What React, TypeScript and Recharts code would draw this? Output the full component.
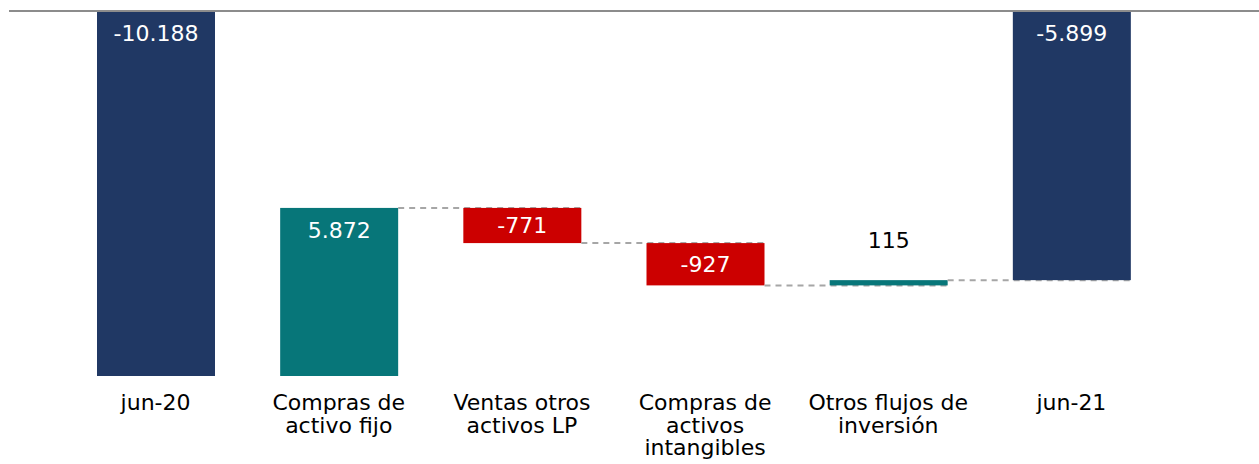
import { BarChart, Bar, XAxis, YAxis, ReferenceLine, LabelList } from 'recharts';

const categories = [
  'jun-20',
  'Compras de\nactivo fijo',
  'Ventas otros\nactivos LP',
  'Compras de\nactivos\nintangibles',
  'Otros flujos de\ninversión',
  'jun-21',
];
const changes = [-10188, 5872, -771, -927, 115, -5899];
const isTotal = [true, false, false, false, false, true];

const COLORS = { total: '#203864', up: '#077679', down: '#CC0000' };
const FONT = '"DejaVu Sans", Verdana, sans-serif';

const CHART_W = 1259;
const CHART_H = 464;
const MARGIN = { top: 11, right: 0, left: 9, bottom: 0 };
const PAD = { left: 55, right: 96 };
const BAND = (CHART_W - MARGIN.left - MARGIN.right - PAD.left - PAD.right) / categories.length;

// running totals -> [low, high] ranges for the floating bars
let running = 0;
const rows = categories.map((name, i) => {
  const start = isTotal[i] ? 0 : running;
  const end = isTotal[i] ? changes[i] : running + changes[i];
  running = end;
  return {
    name,
    value: changes[i],
    range: [Math.min(start, end), Math.max(start, end)],
    end,
    total: isTotal[i],
  };
});

const labelPlacement = ['insideTop', 'insideTop', 'center', 'center', 'above', 'insideTop'];

const fmt = (v: number) => {
  const s = Math.abs(v).toString().replace(/\B(?=(\d{3})+(?!\d))/g, '.');
  return (v < 0 ? '-' : '') + s;
};

const barColor = (row: any) => (row.total ? COLORS.total : row.value >= 0 ? COLORS.up : COLORS.down);

const WaterfallBar = (props: any) => {
  const { x, y, width, height, index, payload } = props;
  const top = Math.min(y, y + height);
  const h = Math.abs(height);
  const endAtTop = payload.end === payload.range[1];
  const level = endAtTop ? top : top + h;
  const last = index === rows.length - 1;
  return (
    <g>
      <rect x={x} y={top} width={width} height={h} fill={barColor(payload)} />
      {!last && (
        <line
          x1={x + width}
          x2={x + width + BAND}
          y1={level}
          y2={level}
          stroke="#A6A6A6"
          strokeWidth={2}
          strokeDasharray="6 5"
        />
      )}
    </g>
  );
};

const renderLabel = (props: any) => {
  const { x, y, width, height, value, index } = props;
  const top = Math.min(y, y + height);
  const h = Math.abs(height);
  const place = labelPlacement[index];
  let cy = top + h / 2;
  if (place === 'insideTop') cy = top + 22;
  if (place === 'above') cy = top - 40;
  return (
    <text
      x={x + width / 2}
      y={cy}
      dy="0.36em"
      textAnchor="middle"
      fontSize={22}
      fontFamily={FONT}
      fill={place === 'above' ? '#000000' : '#FFFFFF'}
    >
      {fmt(value)}
    </text>
  );
};

const CategoryTick = ({ x, y, payload }: any) => {
  const lines = String(payload.value).split('\n');
  return (
    <text x={x} y={y} textAnchor="middle" fontSize={22} fontFamily={FONT} fill="#000000">
      {lines.map((line, i) => (
        <tspan key={i} x={x} dy={i === 0 ? 26 : 22.5}>
          {line}
        </tspan>
      ))}
    </text>
  );
};

export default function App() {
  return (
    <div style={{ position: 'absolute', left: 0, top: 0, background: '#fff' }}>
      <BarChart width={CHART_W} height={CHART_H} data={rows} margin={MARGIN}>
        <XAxis
          dataKey="name"
          axisLine={false}
          tickLine={false}
          interval={0}
          height={88}
          padding={PAD}
          tick={<CategoryTick />}
        />
        <YAxis hide domain={[-8000, 0]} allowDataOverflow />
        <Bar dataKey="range" barSize={118} isAnimationActive={false} shape={<WaterfallBar />}>
          <LabelList dataKey="value" content={renderLabel} />
        </Bar>
        <ReferenceLine y={0} stroke="#8C8C8C" strokeWidth={2} />
      </BarChart>
    </div>
  );
}
